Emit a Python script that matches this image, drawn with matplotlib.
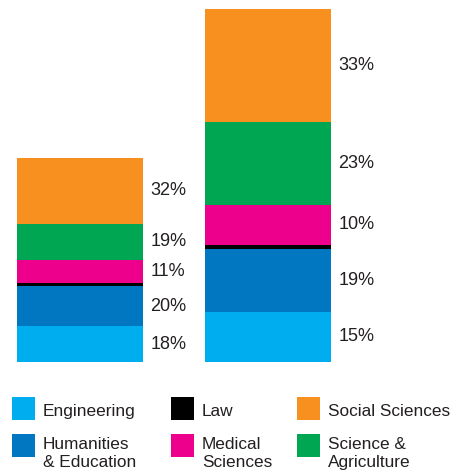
import matplotlib
matplotlib.use("Agg")
import matplotlib.pyplot as plt
from matplotlib.patches import Rectangle

plt.rcParams['font.family'] = ['Liberation Sans', 'DejaVu Sans']

# ---- data ----
groups = ["Group A", "Group B"]
categories = ["Engineering", "Humanities\n& Education", "Law",
              "Medical\nSciences", "Science &\nAgriculture", "Social Sciences"]
colors = ["#00AEEF", "#0077C0", "#000000", "#EC008C", "#00A651", "#F7901E"]
# relative sizes (right bar total = 100)
values = {
    "Engineering":              [10.2, 14.2],
    "Humanities\n& Education":  [11.2, 17.9],
    "Law":                      [0.85, 1.05],
    "Medical\nSciences":        [6.6, 11.4],
    "Science &\nAgriculture":   [10.4, 23.5],
    "Social Sciences":          [18.7, 32.0],
}
pct_labels = {
    "Engineering":              ["18%", "15%"],
    "Humanities\n& Education":  ["20%", "19%"],
    "Law":                      ["", ""],
    "Medical\nSciences":        ["11%", "10%"],
    "Science &\nAgriculture":   ["19%", "23%"],
    "Social Sciences":          ["32%", "33%"],
}
# legend order: column-major, 3 columns x 2 rows
legend_order = ["Engineering", "Humanities\n& Education", "Law",
                "Medical\nSciences", "Social Sciences", "Science &\nAgriculture"]

W, H = 460, 473
fig = plt.figure(figsize=(W / 100, H / 100), dpi=100)
ax = fig.add_axes([0, (H - 362) / H, 1, 362 / H])
ax.set_xlim(-0.4235, 2.0207)
ax.set_ylim(0, 102.6)
ax.axis("off")

xs = [0, 1]
bottoms = [0.0, 0.0]
textc = "#231F20"
color_of = dict(zip(categories, colors))
for cat in categories:
    vals = values[cat]
    ax.bar(xs, vals, width=0.67, bottom=bottoms, color=color_of[cat], linewidth=0)
    for i, x in enumerate(xs):
        lab = pct_labels[cat][i]
        if lab:
            ax.text(x + 0.375, bottoms[i] + vals[i] / 2, lab, ha="left",
                    va="center", fontsize=13, color=textc)
    bottoms = [b + v for b, v in zip(bottoms, vals)]

# ---- legend (manual) ----
col_x = [12, 171, 297]
row_y = [397, 434]
sq = 23
for k, cat in enumerate(legend_order):
    c, r = k // 2, k % 2
    x0, y0 = col_x[c], row_y[r]
    fig.add_artist(Rectangle((x0 / W, 1 - (y0 + sq) / H), sq / W, sq / H,
                             transform=fig.transFigure, color=color_of[cat], lw=0))
    lines = cat.split("\n")
    base = y0 + (19 if len(lines) == 1 else 14.5)
    for j, line in enumerate(lines):
        fig.text((x0 + 31) / W, 1 - (base + 18 * j) / H, line, ha="left",
                 va="baseline", fontsize=12.4, color=textc)

fig.savefig("out.png", dpi=100)
